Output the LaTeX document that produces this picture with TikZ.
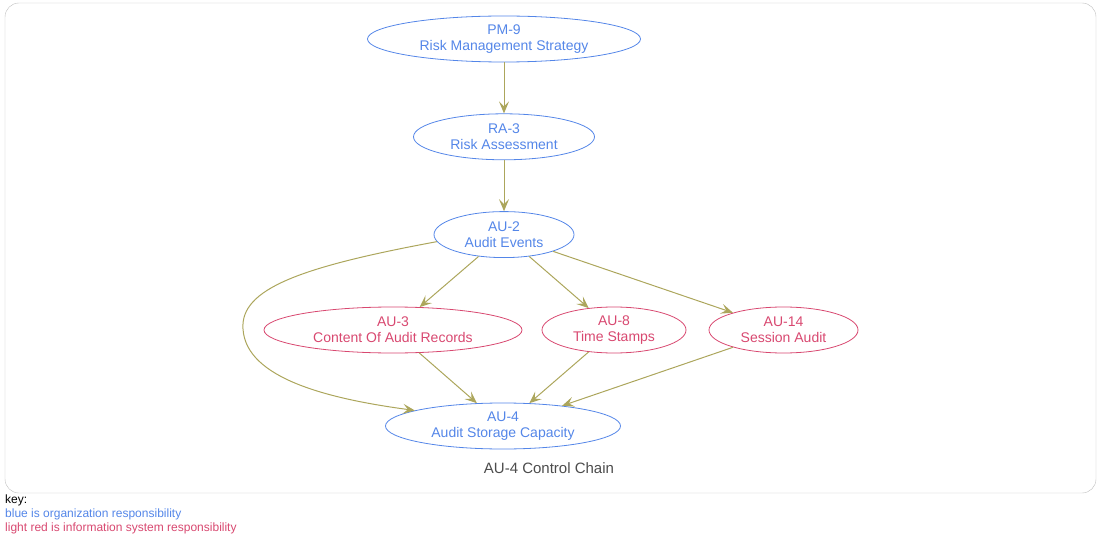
\documentclass[tikz,border=0pt]{standalone}
\usepackage{fontspec}
\setmainfont{Liberation Sans}
\usetikzlibrary{positioning,arrows.meta,shapes.geometric}

\definecolor{orgblue}{RGB}{84,134,232}
\definecolor{sysred}{RGB}{216,72,112}
\definecolor{edgeolive}{RGB}{172,166,92}
\definecolor{framegray}{RGB}{190,190,190}

\begin{document}
\begin{tikzpicture}[
    x=1pt, y=1pt,
    node distance=51pt and 20pt,
    >={Stealth[length=12pt,width=10pt,inset=5pt]},
    every node/.style={font=\fontsize{14}{16}\selectfont, align=center},
    ctrl/.style={draw, ellipse, inner sep=0pt, minimum height=46pt, line width=0.8pt},
    org/.style={ctrl, draw=orgblue, text=orgblue},
    sys/.style={ctrl, draw=sysred, text=sysred},
    link/.style={->, draw=edgeolive, line width=1pt}
]
\useasboundingbox (0,0) rectangle (1100,539);
\draw[framegray, rounded corners=14pt] (5,46) rectangle (1096,536);

\node[org, minimum width=273pt] (pm9) at (504,500) {PM-9\\Risk Management Strategy};
\node[org, minimum width=181pt, below=of pm9] (ra3) {RA-3\\Risk Assessment};
\node[org, minimum width=140pt, below=of ra3] (au2) {AU-2\\Audit Events};
\node[sys, minimum width=258pt] (au3) at (393,209) {AU-3\\Content Of Audit Records};
\node[sys, minimum width=144pt] (au8) at (614,209) {AU-8\\Time Stamps};
\node[sys, minimum width=149pt] (au14) at (783.5,209) {AU-14\\Session Audit};
\node[org, minimum width=235pt] (au4) at (503,113) {AU-4\\Audit Storage Capacity};

\node[text=black!70, font=\fontsize{15}{18}\selectfont] (title) at (549,71) {AU-4 Control Chain};

\draw[link] (pm9) -- (ra3);
\draw[link] (ra3) -- (au2);
\draw[link] (au2) -- (au3);
\draw[link] (au2) -- (au8);
\draw[link] (au2) -- (au14);
\draw[link] (au3) -- (au4);
\draw[link] (au8) -- (au4);
\draw[link] (au14) -- (au4);
\draw[link] (au2.186) .. controls (300,272) and (240,250) .. (243,210)
    .. controls (246,160) and (330,140) .. (au4.170);

% key
\node[anchor=west, inner sep=0pt, font=\fontsize{12}{14}\selectfont] (key) at (5,39) {key:};
\node[anchor=west, inner sep=0pt, text=orgblue, font=\fontsize{12}{14}\selectfont] (keyorg) at (5,25) {blue is organization responsibility};
\node[anchor=west, inner sep=0pt, text=sysred, font=\fontsize{12}{14}\selectfont] (keysys) at (5,11) {light red is information system responsibility};
\end{tikzpicture}
\end{document}
